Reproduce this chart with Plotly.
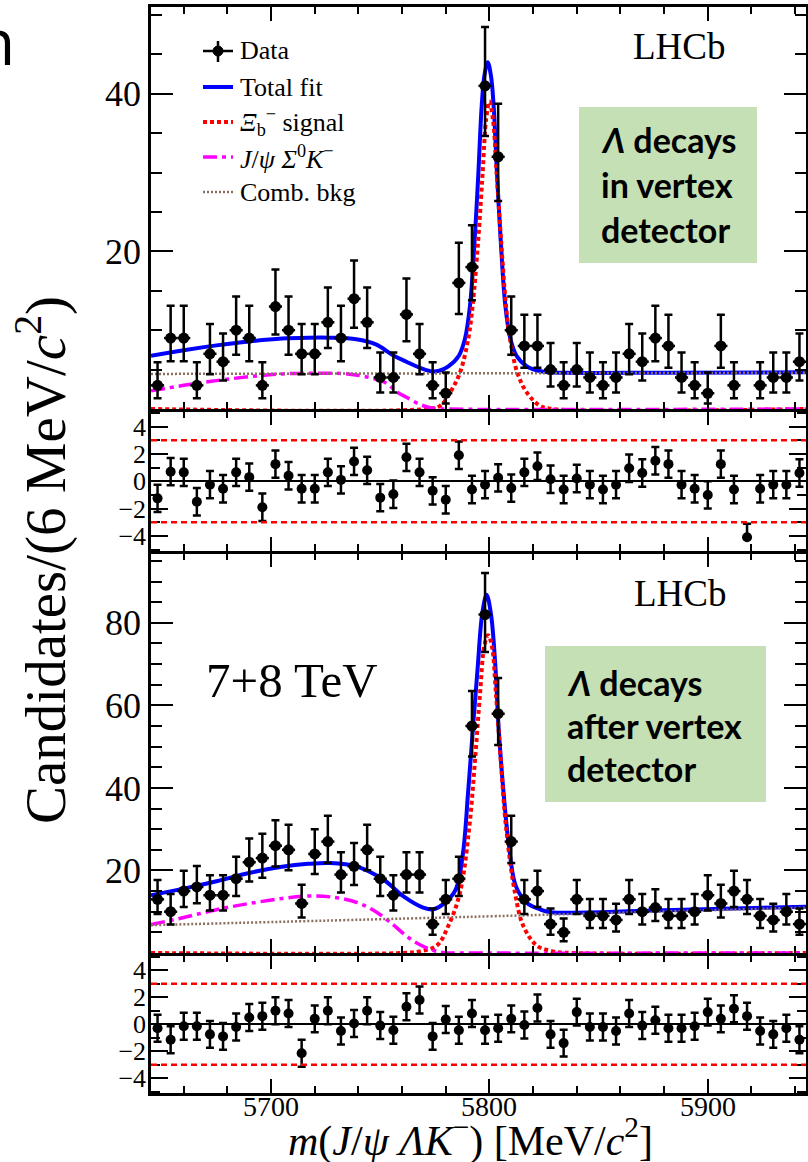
import math
import plotly.graph_objects as go

W, H = 808, 1162

# ---------------- data ----------------
BIN_LO = 5645
BIN_WIDTH = 6
N_BINS = 50
BIN_CENTERS = [BIN_LO + BIN_WIDTH * (i + 0.5) for i in range(N_BINS)]

TOP_COUNTS = [3, 9, 9, 3, 7, 6, 10, 9, 3, 13, 10, 7, 7, 11, 9, 14, 11, 4, 4, 12,
              7, 3, 2, 16, 18, 41, 32, 10, 8, 8, 5, 3, 5, 4, 3, 4, 7, 6, 9, 8,
              4, 3, 2, 8, 3, 0, 3, 4, 4, 6]
TOP_PULLS = [-1.25, 0.7, 0.65, -1.5, -0.25, -0.55, 0.65, 0.3, -1.9, 1.25,
             0.4, -0.55, -0.55, 0.65, 0.1, 1.45, 0.8, -1.2, -0.95, 1.75,
             0.65, -0.7, -1.35, 1.9, -0.6, -0.25, 0.25, -0.5, 0.65, 1.1,
             0.15, -0.6, 0.2, -0.25, -0.6, -0.25, 0.95, 0.6, 1.5, 1.25,
             -0.25, -0.55, -1.0, 1.25, -0.6, -4.1, -0.55, -0.25, -0.25, 0.6]

BOT_COUNTS = [13, 10, 15, 16, 14, 14, 18, 22, 23, 26, 25, 12, 24, 27, 19, 21, 25, 18, 14, 19,
              19, 7, 13, 18, 55, 82, 58, 27, 13, 15, 7, 5, 13, 9, 9, 8, 13, 10, 11, 9,
              9, 10, 14, 12, 15, 13, 9, 8, 10, 7]
BOT_PULLS = [-0.3, -1.15, -0.15, -0.15, -0.75, -0.9, -0.2, 0.5, 0.6, 1.0,
             0.8, -2.15, 0.4, 1.0, -0.5, 0.05, 1.0, -0.1, -0.45, 1.3,
             1.8, -0.9, 0.35, -0.45, 0.8, -0.45, -0.3, 0.4, -0.05, 1.2,
             -0.75, -1.4, 0.9, -0.2, -0.2, -0.5, 0.8, -0.1, 0.3, -0.3,
             -0.3, -0.15, 0.9, 0.4, 1.15, 0.6, -0.5, -0.75, -0.3, -1.15]

# fit curves (knots)
TOP_TOTAL_X = [5645, 5660, 5675, 5690, 5705, 5717, 5727, 5739, 5748, 5756,
               5762, 5767.5, 5773, 5777, 5781.2, 5786, 5788.8, 5791.1, 5793.25, 5794.95,
               5796.45, 5797.7, 5799.2, 5800.7, 5801.95, 5803.45, 5805.15, 5807.3, 5809.6, 5812.4,
               5817.2, 5824.2, 5835, 5880, 5945]
TOP_TOTAL_Y = [6.75, 7.46, 8.07, 8.57, 8.93, 9.04, 9.04, 8.85, 8.2, 6.8,
               6.0, 5.3, 4.8, 4.85, 5.4, 6.75, 8.9, 13.1, 21.5, 30.0,
               38.4, 42.3, 44.0, 42.3, 38.4, 30.0, 21.5, 13.1, 8.9, 6.75,
               5.4, 4.75, 4.6, 4.6, 4.65]
TOP_SIG_X = [5645, 5771, 5777.4, 5782, 5786.5, 5790.3, 5792.3, 5794.9, 5796.9, 5798.5,
             5800, 5801.6, 5803.3, 5805.3, 5807.6, 5809.4, 5812.8, 5817.1, 5823.2, 5829, 5945]
TOP_SIG_Y = [0, 0, 0.4, 2.1, 4.6, 8.9, 13.1, 21.5, 30.0, 36.8,
             39.0, 36.8, 30.0, 21.5, 13.1, 8.9, 4.6, 2.1, 0.4, 0, 0]
TOP_SIGMA0_X = [5645, 5660, 5675, 5690, 5705, 5720, 5735, 5745, 5752, 5758, 5762, 5768, 5774, 5780, 5945]
TOP_SIGMA0_Y = [2.3, 3.0, 3.6, 4.1, 4.45, 4.55, 4.45, 4.0, 3.4, 2.1, 1.5, 0.6, 0.1, 0, 0]
TOP_COMB_X = [5645, 5945]
TOP_COMB_Y = [4.45, 4.6]

BOT_TOTAL_X = [5645, 5660, 5675, 5690, 5705, 5717, 5727, 5739, 5751.4, 5760.5,
               5769.7, 5774.3, 5779.7, 5784.6, 5787.9, 5790.2, 5792.5, 5794.7, 5796.7, 5798.7,
               5800.7, 5802.7, 5804.2, 5806.5, 5808.8, 5812.1, 5817.1, 5823, 5828, 5875, 5945]
BOT_TOTAL_Y = [14.0, 15.6, 17.4, 19.4, 20.9, 21.6, 21.8, 21.0, 17.8, 13.8,
               11.0, 10.6, 12.2, 15.4, 24.2, 38.7, 54.7, 69.7, 82.2, 86.8,
               82.2, 69.7, 54.7, 38.7, 26.6, 16.2, 12.2, 10.6, 9.9, 10.3, 11.2]
BOT_SIG_X = [5645, 5760, 5768, 5775.9, 5781.2, 5786.5, 5790.8, 5793.4, 5795.7, 5797.7,
             5799.4, 5801.1, 5803, 5805.2, 5807.6, 5811.7, 5815.5, 5821.7, 5829, 5838, 5945]
BOT_SIG_Y = [0, 0, 0.4, 1.8, 6.6, 14.6, 30.6, 46.7, 62.8, 74.5,
             77.0, 74.5, 62.8, 46.7, 30.6, 14.6, 6.6, 1.8, 0.4, 0, 0]
BOT_SIGMA0_X = [5645, 5660, 5675, 5690, 5705, 5717, 5727, 5739, 5748, 5756, 5762, 5767.5, 5774.5, 5779.5, 5786, 5945]
BOT_SIGMA0_Y = [6.9, 8.6, 10.5, 12.0, 13.2, 13.8, 13.6, 12.3, 10.0, 6.8, 4.1, 2.2, 0.6, 0.05, 0, 0]
BOT_COMB_X = [5645, 5790, 5945]
BOT_COMB_Y = [6.75, 8.75, 11.0]

X_RANGE = [5645, 5945]
X_TICKS = [5700, 5800, 5900]
TOP_YRANGE = [0, 51]
BOT_YRANGE = [0, 96.8]
PULL_RANGE = [-5.1, 5.1]
PULL_BAND = 3
TOP_YTICKS = [0, 20, 40]
BOT_YTICKS = [0, 20, 40, 60, 80]
PULL_TICKS = [-4, -2, 0, 2, 4]

# ---------------- helpers ----------------
def pois_cdf(k, mu):
    if k < 0:
        return 0.0
    term = math.exp(-mu)
    s = term
    for i in range(1, k + 1):
        term *= mu / i
        s += term
    return s


def bisect(f, lo, hi, target):
    for _ in range(80):
        mid = 0.5 * (lo + hi)
        if f(mid) > target:
            lo = mid
        else:
            hi = mid
    return 0.5 * (lo + hi)


ALPHA = 0.158655


def garwood(n):
    up = bisect(lambda m: pois_cdf(n, m), n, n + 20 + 6 * math.sqrt(n + 1), ALPHA)
    lo = 0.0 if n == 0 else bisect(lambda m: pois_cdf(n - 1, m), 0, n, 1 - ALPHA)
    return up - n, n - lo


def pxx(p):
    return p / W


def pxy(p):
    return 1 - p / H


SERIF = "Liberation Serif"
BLUE = "#0000ff"
RED = "#ff0000"
MAGENTA = "#ff00ff"
BROWN = "#8c6e5f"
GREEN = "#c5e0b4"
LW = 2.5

fig = go.Figure()


def add_panel(counts, pulls, curves, xa, ya, xr, yr):
    for (cx, cy, col, wid, dash, shape) in curves:
        fig.add_trace(go.Scatter(x=cx, y=cy, mode="lines", xaxis=xa, yaxis=ya,
                                 line=dict(color=col, width=wid, dash=dash, shape=shape,
                                           smoothing=1.0),
                                 hoverinfo="skip", showlegend=False))
    ys, eu, ed = [], [], []
    for n in counts:
        u, d = garwood(n)
        ys.append(n if n > 0 else None)
        eu.append(u)
        ed.append(d)
    fig.add_trace(go.Scatter(x=BIN_CENTERS, y=ys, mode="markers", xaxis=xa, yaxis=ya,
                             marker=dict(color="black", size=11),
                             error_y=dict(type="data", symmetric=False, array=eu, arrayminus=ed,
                                          color="black", thickness=2.5, width=4),
                             error_x=dict(type="constant", value=BIN_WIDTH / 2,
                                          color="black", thickness=2.5, width=0),
                             showlegend=False))
    pu = [1.0 for _ in counts]
    pd = [0.0 if n == 0 else 1.0 for n in counts]
    fig.add_trace(go.Scatter(x=BIN_CENTERS, y=pulls, mode="markers", xaxis=xr, yaxis=yr,
                             marker=dict(color="black", size=10),
                             error_y=dict(type="data", symmetric=False, array=pu, arrayminus=pd,
                                          color="black", thickness=2.5, width=4),
                             showlegend=False))


DOT_RED = "4px,3px"
DASHDOT = "14px,5px,4px,5px"
DOT_BROWN = "2px,2px"

add_panel(TOP_COUNTS, TOP_PULLS,
          [(TOP_TOTAL_X, TOP_TOTAL_Y, BLUE, 4, "solid", "spline"),
           (TOP_SIG_X, TOP_SIG_Y, RED, 4, DOT_RED, "spline"),
           (TOP_SIGMA0_X, TOP_SIGMA0_Y, MAGENTA, 3.5, DASHDOT, "spline"),
           (TOP_COMB_X, TOP_COMB_Y, BROWN, 2.5, DOT_BROWN, "linear")],
          "x", "y", "x2", "y2")
add_panel(BOT_COUNTS, BOT_PULLS,
          [(BOT_TOTAL_X, BOT_TOTAL_Y, BLUE, 4, "solid", "spline"),
           (BOT_SIG_X, BOT_SIG_Y, RED, 4, DOT_RED, "spline"),
           (BOT_SIGMA0_X, BOT_SIGMA0_Y, MAGENTA, 3.5, DASHDOT, "spline"),
           (BOT_COMB_X, BOT_COMB_Y, BROWN, 2.5, DOT_BROWN, "spline")],
          "x3", "y3", "x4", "y4")

XDOM = [pxx(151), pxx(806)]
DOMS = {
    "top": [pxy(409), pxy(7)],
    "r1": [pxy(551), pxy(411.5)],
    "bot": [pxy(953), pxy(553.5)],
    "r2": [pxy(1093), pxy(955.5)],
}


def xaxis(anchor):
    return dict(domain=XDOM, range=X_RANGE, anchor=anchor, showgrid=False, zeroline=False,
                showline=True, linecolor="black", linewidth=LW, mirror="ticks",
                ticks="inside", tickcolor="black", tickwidth=2, ticklen=14,
                tickmode="linear", tick0=X_TICKS[0], dtick=X_TICKS[1] - X_TICKS[0],
                minor=dict(ticks="inside", tickcolor="black", tickwidth=2, ticklen=7,
                           tickmode="linear", tick0=X_TICKS[0], dtick=20, showgrid=False),
                showticklabels=False)


def yaxis(anchor, dom, rng, tv, tt, minor_tv, major_len, minor_len, fsize, standoff, zl=False):
    return dict(domain=dom, range=rng, anchor=anchor, showgrid=False,
                zeroline=zl, zerolinecolor="black", zerolinewidth=2,
                showline=True, linecolor="black", linewidth=LW, mirror="ticks",
                ticks="inside", tickcolor="black", tickwidth=2, ticklen=major_len,
                tickmode="array", tickvals=tv, ticktext=tt,
                minor=dict(ticks="inside", tickcolor="black", tickwidth=2, ticklen=minor_len,
                           tickmode="array", tickvals=minor_tv, showgrid=False),
                ticklabelstandoff=standoff,
                tickfont=dict(family=SERIF, size=fsize, color="black"))


def lbl(v):
    return ("\u2212" + str(-v)) if v < 0 else str(v)


top_tt = ["" if v == 0 else str(v) for v in TOP_YTICKS]
bot_tt = ["" if v == 0 else str(v) for v in BOT_YTICKS]
pull_tt = [lbl(v) for v in PULL_TICKS]

fig.update_layout(
    width=W, height=H, margin=dict(l=0, r=0, t=0, b=0),
    paper_bgcolor="white", plot_bgcolor="white", showlegend=False,
    xaxis=xaxis("y"), xaxis2=xaxis("y2"), xaxis3=xaxis("y3"), xaxis4=xaxis("y4"),
    yaxis=yaxis("x", DOMS["top"], TOP_YRANGE, TOP_YTICKS, top_tt,
                [v for v in range(5, 51, 5) if v % 20], 22, 11, 36, 0),
    yaxis2=yaxis("x2", DOMS["r1"], PULL_RANGE, PULL_TICKS, pull_tt, [-5, -3, -1, 1, 3, 5], 17, 9, 26, -3, True),
    yaxis3=yaxis("x3", DOMS["bot"], BOT_YRANGE, BOT_YTICKS, bot_tt,
                 [v for v in range(5, 96, 5) if v % 20], 22, 11, 36, 0),
    yaxis4=yaxis("x4", DOMS["r2"], PULL_RANGE, PULL_TICKS, pull_tt, [-5, -3, -1, 1, 3, 5], 17, 9, 26, -3, True),
)

shapes = []
for xr, yr in (("x2", "y2"), ("x4", "y4")):
    for s in (PULL_BAND, -PULL_BAND):
        shapes.append(dict(type="line", xref=xr + " domain", yref=yr, x0=0, x1=1, y0=s, y1=s,
                           line=dict(color=RED, width=2.5, dash="6px,4px")))

for (x0, y0, x1, y1) in ((579, 107, 757, 263), (545, 646, 766, 802)):
    shapes.append(dict(type="rect", xref="paper", yref="paper", x0=pxx(x0), x1=pxx(x1),
                       y0=pxy(y1), y1=pxy(y0), fillcolor=GREEN, line=dict(width=0), layer="below"))

LEG_X0, LEG_X1, LEG_TX = 203, 233, 238
LEG_ROWS = [51, 87, 122, 157, 192]
shapes.append(dict(type="line", xref="paper", yref="paper", x0=pxx(LEG_X0), x1=pxx(LEG_X1),
                   y0=pxy(LEG_ROWS[0]), y1=pxy(LEG_ROWS[0]), line=dict(color="black", width=2.5)))
shapes.append(dict(type="line", xref="paper", yref="paper", x0=pxx(218), x1=pxx(218),
                   y0=pxy(LEG_ROWS[0] - 10), y1=pxy(LEG_ROWS[0] + 11), line=dict(color="black", width=2.5)))
shapes.append(dict(type="circle", xref="paper", yref="paper", x0=pxx(213), x1=pxx(223),
                   y0=pxy(LEG_ROWS[0] + 5), y1=pxy(LEG_ROWS[0] - 5), fillcolor="black",
                   line=dict(color="black", width=1)))
for row, col, wid, dash in ((LEG_ROWS[1], BLUE, 4, "solid"), (LEG_ROWS[2], RED, 4, DOT_RED),
                            (LEG_ROWS[3], MAGENTA, 3.5, DASHDOT), (LEG_ROWS[4], BROWN, 2.5, DOT_BROWN)):
    shapes.append(dict(type="line", xref="paper", yref="paper", x0=pxx(LEG_X0), x1=pxx(LEG_X1),
                       y0=pxy(row), y1=pxy(row), line=dict(color=col, width=wid, dash=dash)))
fig.update_layout(shapes=shapes)

ann = []


def txt(t, x, y, size, family=SERIF, xanchor="center", angle=0, xref="paper"):
    ann.append(dict(text=t, x=(x if xref != "paper" else pxx(x)), y=pxy(y), xref=xref, yref="paper",
                    showarrow=False, xanchor=xanchor, yanchor="middle", textangle=angle,
                    font=dict(family=family, size=size, color="black")))


# x tick labels, placed at the bottom axis' data positions
for v in X_TICKS:
    txt(str(v), v, 1106, 28, SERIF, "center", 0, "x4")

LEG_TEXT = ["Data", "Total fit", "<i>\u039e</i><sub>b</sub><sup>\u2212</sup> signal",
            "<i>J</i>/<i>\u03c8</i> <i>\u03a3</i><sup>0</sup><i>K</i><sup>\u2212</sup>", "Comb. bkg"]
for row, t in zip(LEG_ROWS, LEG_TEXT):
    txt(t, LEG_TX, row, 26, SERIF, "left")

txt("LHCb", 679, 47, 37)
txt("LHCb", 680, 593, 37)
txt("7+8 TeV", 292, 680, 49)
BOX_FONT = "Lato"
for t, y in (("<b><i>\u039b</i> decays</b>", 140), ("<b>in vertex</b>", 185), ("<b>detector</b>", 230)):
    txt(t, 599, y, 34, BOX_FONT, "left")
for t, y in (("<b><i>\u039b</i> decays</b>", 682), ("<b>after vertex</b>", 725), ("<b>detector</b>", 768)):
    txt(t, 565, y, 34, BOX_FONT, "left")
txt("Candidates/(6 MeV/<i>c</i><sup>2</sup>)", 41, 560, 57, angle=-90)
txt("<i>m</i>(<i>J</i>/<i>\u03c8</i> <i>\u039bK</i><sup>\u2212</sup>) [MeV/<i>c</i><sup>2</sup>]", 471, 1138, 42)
txt("n", 17, 40, 64, "Open Sans", "right")

fig.update_layout(annotations=ann)
fig.write_html("out.html")
